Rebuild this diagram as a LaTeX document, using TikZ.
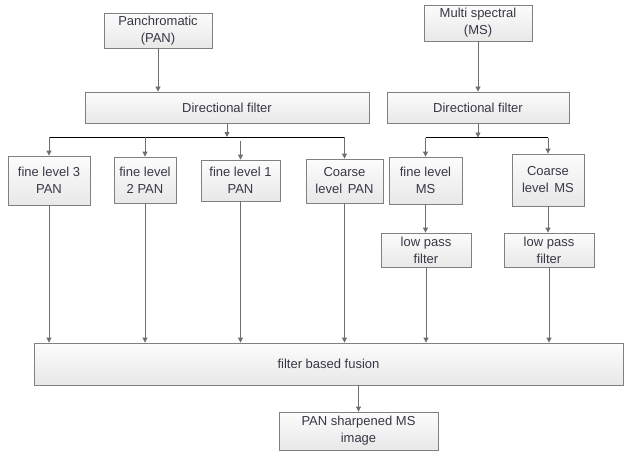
\documentclass[tikz,border=0pt]{standalone}
\usepackage{fontspec}
\setmainfont{Liberation Sans}
\usetikzlibrary{arrows.meta,shadows}
\definecolor{boxline}{RGB}{128,128,128}
\definecolor{boxtop}{RGB}{252,252,252}
\definecolor{boxbot}{RGB}{232,232,232}
\definecolor{txt}{RGB}{55,55,70}
\definecolor{arr}{RGB}{110,110,110}
\begin{document}
\begin{tikzpicture}[x=1pt,y=-1pt,
  box/.style={draw=boxline,line width=0.8pt,top color=boxtop,bottom color=boxbot,
    text=txt,align=center,inner sep=1pt,font=\fontsize{13}{17}\selectfont,
    drop shadow={shadow xshift=1.2pt,shadow yshift=-1.2pt,fill=black,opacity=0.35}},
  conn/.style={draw=arr,line width=0.8pt,-{Triangle[width=5pt,length=5pt]}},
  bus/.style={draw=black,line width=0.8pt}]
\useasboundingbox (0,0) rectangle (624,452);
\fill[white] (0,0) rectangle (624,452);
% boxes
\node[box,minimum width=108pt,minimum height=35pt] (pan) at (158,30.5) {Panchromatic\\(PAN)};
\node[box,minimum width=284pt,minimum height=31pt] (df1) at (227,107.5) {Directional filter};
\node[box,minimum width=108pt,minimum height=36pt] (ms) at (478,23) {Multi spectral\\(MS)};
\node[box,minimum width=182pt,minimum height=31pt] (df2) at (478,107.5) {Directional filter};
\node[box,minimum width=82pt,minimum height=49pt] (f3) at (49,180.5) {fine level 3\\PAN};
\node[box,minimum width=62pt,minimum height=46pt] (f2) at (145,180) {fine level\\2 PAN};
\node[box,minimum width=79pt,minimum height=41pt] (f1) at (240.5,180.5) {fine level 1\\PAN};
\node[box,minimum width=77pt,minimum height=44pt] (cp) at (344.5,181) {Coarse\\level\hspace{2pt} PAN};
\node[box,minimum width=73pt,minimum height=47pt] (fm) at (425.5,180.5) {fine level\\MS};
\node[box,minimum width=72pt,minimum height=52pt] (cm) at (548,180) {Coarse\\level\hspace{2pt} MS};
\node[box,minimum width=90pt,minimum height=34pt] (l1) at (426,250) {low pass\\filter};
\node[box,minimum width=90pt,minimum height=34pt] (l2) at (549,250) {low pass\\filter};
\node[box,minimum width=589pt,minimum height=42pt] (fus) at (328.5,364) {filter based fusion};
\node[box,minimum width=159pt,minimum height=38pt] (out) at (358.5,431) {PAN sharpened MS\\image};
% bus coordinates
\coordinate (b1) at (227,137);
\coordinate (b2) at (478,137.5);
\coordinate (g1) at (240.5,141);
% connectors
\draw[conn] (pan.south) -- (pan.south |- df1.north);
\draw[conn] (ms.south) -- (df2.north);
\draw[conn] (df1.south) -- (b1);
\draw[conn] (df2.south) -- (b2);
\draw[bus] (f3.north |- b1) -- (cp.north |- b1);
\draw[bus] (fm.north |- b2) -- (cm.north |- b2);
\draw[conn] (f3.north |- b1) -- (f3.north);
\draw[conn] (f2.north |- b1) -- (f2.north);
\draw[conn] (g1) -- (f1.north);
\draw[conn] (cp.north |- b1) -- (cp.north);
\draw[conn] (fm.north |- b2) -- (fm.north);
\draw[conn] (cm.north |- b2) -- (cm.north);
\draw[conn] (fm.south) -- (l1.north -| fm.south);
\draw[conn] (cm.south) -- (l2.north -| cm.south);
\draw[conn] (f3.south) -- (f3.south |- fus.north);
\draw[conn] (f2.south) -- (f2.south |- fus.north);
\draw[conn] (f1.south) -- (f1.south |- fus.north);
\draw[conn] (cp.south) -- (cp.south |- fus.north);
\draw[conn] (l1.south) -- (l1.south |- fus.north);
\draw[conn] (l2.south) -- (l2.south |- fus.north);
\draw[conn] (fus.south -| out.north) -- (out.north);
\end{tikzpicture}
\end{document}
